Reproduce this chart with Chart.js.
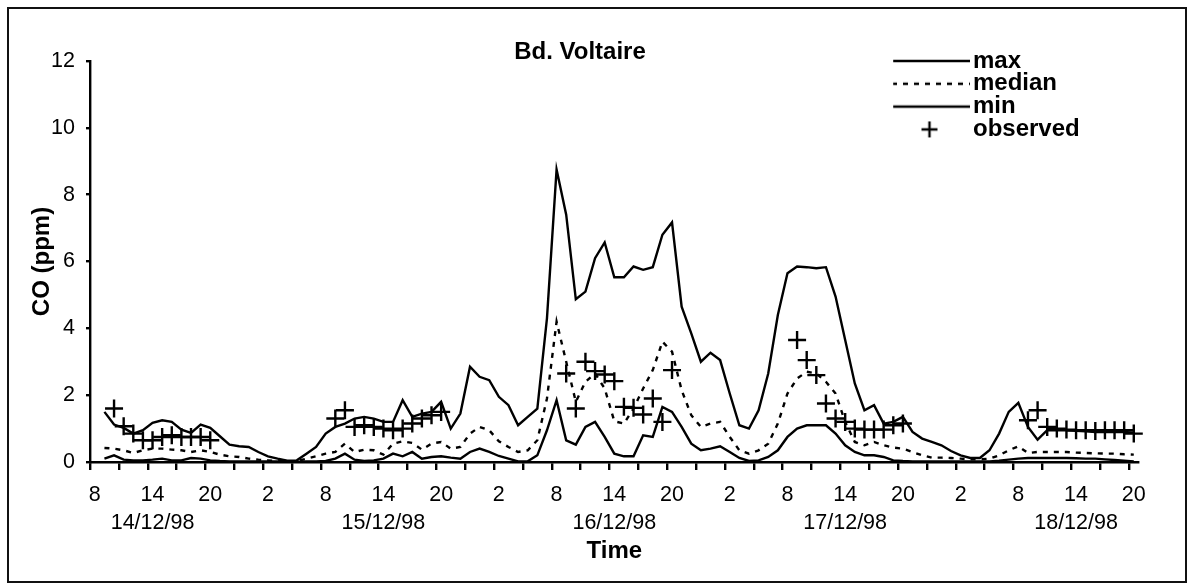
<!DOCTYPE html>
<html>
<head>
<meta charset="utf-8">
<title>Bd. Voltaire - CO</title>
<script src="https://cdn.jsdelivr.net/npm/chart.js@4.4.1/dist/chart.umd.min.js"></script>
<style>
  html, body { margin: 0; padding: 0; background: #fff; }
  #wrap { position: relative; width: 1189px; height: 585px; }
  #frame { position: absolute; left: 7px; top: 7px; width: 1180px; height: 576px; box-sizing: border-box; border: 2px solid #111; pointer-events: none; }
  canvas { position: absolute; left: 0; top: 0; }
</style>
</head>
<body>
<div id="wrap">
  <canvas id="coChart" width="1189" height="585"></canvas>
  <div id="frame"></div>
</div>
<script>
// one category per hour, starting 14/12/98 08:00 (index 0) up to 18/12/98 20:00 (index 108)
const hours = Array.from({ length: 109 }, (_, i) => i);

// labels under every second tick mark (every 6 hours)
const tickLabels = [
  '8', ['14', '14/12/98'], '20', '2',
  '8', ['14', '15/12/98'], '20', '2',
  '8', ['14', '16/12/98'], '20', '2',
  '8', ['14', '17/12/98'], '20', '2',
  '8', ['14', '18/12/98'], '20'
];
const yTicks = [0, 2, 4, 6, 8, 10, 12];

const seriesNames = ['max', 'median', 'min', 'observed'];

const maxCO = [
  null, 1.5, 1.12, 1.02, 0.85, 0.95, 1.17, 1.25, 1.2, 0.97, 0.87, 1.12,
  1.02, 0.77, 0.52, 0.47, 0.45, 0.3, 0.17, 0.1, 0.04, 0.05, 0.25, 0.45,
  0.85, 1.05, 1.15, 1.3, 1.35, 1.3, 1.2, 1.2, 1.85, 1.35, 1.45, 1.5,
  1.8, 1.0, 1.45, 2.85, 2.55, 2.45, 1.95, 1.7, 1.1, 1.35, 1.6, 4.3,
  8.75, 7.4, 4.87, 5.1, 6.1, 6.57, 5.53, 5.53, 5.85, 5.75, 5.83, 6.8,
  7.17, 4.65, 3.85, 3.0, 3.27, 3.05, 2.05, 1.1, 1.0, 1.55, 2.65, 4.4,
  5.65, 5.85, 5.83, 5.8, 5.83, 4.95, 3.65, 2.35, 1.55, 1.7, 1.15, 1.2,
  1.35, 0.9, 0.7, 0.6, 0.5, 0.33, 0.2, 0.12, 0.12, 0.35, 0.85, 1.5,
  1.77, 1.05, 0.67, 0.95, 0.95, 0.95, 0.93, 0.92, 0.9, 0.9, 0.9, 0.9,
  0.88
];

const medianCO = [
  null, 0.42, 0.4, 0.35, 0.27, 0.35, 0.4, 0.4, 0.37, 0.35, 0.3, 0.35,
  0.3, 0.22, 0.17, 0.15, 0.1, 0.07, 0.05, 0.03, 0.02, 0.03, 0.1, 0.17,
  0.25, 0.3, 0.55, 0.3, 0.37, 0.35, 0.22, 0.55, 0.62, 0.57, 0.37, 0.55,
  0.6, 0.4, 0.45, 0.85, 1.05, 0.95, 0.62, 0.45, 0.3, 0.35, 0.65, 1.9,
  4.2, 3.0, 1.8, 2.4, 2.65, 2.2, 1.22, 1.15, 1.6, 2.2, 2.75, 3.6,
  3.3, 2.15, 1.4, 1.05, 1.15, 1.2, 0.75, 0.35, 0.25, 0.35, 0.55, 1.15,
  2.05, 2.5, 2.7, 2.65, 2.4, 2.05, 1.2, 0.6, 0.5, 0.6, 0.5, 0.43,
  0.4, 0.3, 0.2, 0.13, 0.13, 0.12, 0.1, 0.08, 0.08, 0.1, 0.2, 0.35,
  0.47, 0.27, 0.3, 0.3, 0.3, 0.3, 0.28, 0.27, 0.26, 0.25, 0.25, 0.23,
  0.22
];

const minCO = [
  null, 0.1, 0.2, 0.07, 0.05, 0.05, 0.07, 0.1, 0.05, 0.05, 0.12, 0.1,
  0.05, 0.03, 0.02, 0.02, 0.02, 0.02, 0.02, 0.02, 0.01, 0.01, 0.02, 0.02,
  0.03, 0.1, 0.25, 0.07, 0.03, 0.05, 0.1, 0.25, 0.17, 0.3, 0.1, 0.15,
  0.17, 0.13, 0.1, 0.3, 0.4, 0.3, 0.18, 0.1, 0.02, 0.02, 0.2, 0.95,
  1.85, 0.65, 0.52, 1.05, 1.2, 0.75, 0.25, 0.17, 0.17, 0.8, 0.75, 1.65,
  1.5, 1.05, 0.55, 0.35, 0.4, 0.47, 0.3, 0.12, 0.03, 0.05, 0.15, 0.35,
  0.75, 1.0, 1.1, 1.1, 1.1, 0.85, 0.5, 0.3, 0.2, 0.2, 0.15, 0.05,
  0.03, 0.02, 0.02, 0.02, 0.02, 0.02, 0.02, 0.02, 0.02, 0.02, 0.04, 0.07,
  0.1, 0.12, 0.12, 0.12, 0.12, 0.12, 0.11, 0.1, 0.1, 0.08, 0.06, 0.04,
  0.02
];

const observedCO = [
  null, null, 1.6, 1.07, 0.85, 0.65, 0.65, 0.75, 0.8, 0.75, 0.75, 0.75,
  0.65, null, null, null, null, null, null, null, null, null, null, null,
  null, 1.3, 1.55, 1.05, 1.1, 1.05, 1.0, 0.95, 1.0, 1.15, 1.3, 1.4,
  1.5, null, null, null, null, null, null, null, null, null, null, null,
  null, 2.65, 1.6, 3.0, 2.72, 2.62, 2.42, 1.65, 1.62, 1.42, 1.9, 1.2,
  2.75, null, null, null, null, null, null, null, null, null, null, null,
  null, 3.65, 3.05, 2.6, 1.75, 1.3, 1.2, 1.0, 0.97, 0.97, 0.97, 1.1,
  1.15, null, null, null, null, null, null, null, null, null, null, null,
  null, 1.25, 1.55, 1.05, 1.0, 0.97, 0.95, 0.95, 0.93, 0.95, 0.95, 0.95,
  0.85
];

const FONT = "'Liberation Sans', Arial, Helvetica, sans-serif";
const MEDIAN_DASH = [5, 6];
const LINE_W = 2.4;

// legend symbols: long line samples and a plus
function lineSymbol(dash) {
  const c = document.createElement('canvas');
  c.width = 87; c.height = 24;
  const g = c.getContext('2d');
  g.strokeStyle = '#000';
  g.lineWidth = LINE_W;
  g.setLineDash(dash);
  g.beginPath();
  g.moveTo(9, 12);
  g.lineTo(87, 12);
  g.stroke();
  return c;
}
function plusSymbol() {
  const c = document.createElement('canvas');
  c.width = 26; c.height = 24;
  const g = c.getContext('2d');
  g.strokeStyle = '#000';
  g.lineWidth = LINE_W;
  g.beginPath();
  g.moveTo(8, 12); g.lineTo(24, 12);
  g.moveTo(16, 4); g.lineTo(16, 20);
  g.stroke();
  return c;
}
const legendSymbols = [lineSymbol([]), lineSymbol(MEDIAN_DASH), lineSymbol([]), plusSymbol()];

// put the legend in the upper right corner of the plot
const legendPlacer = {
  id: 'legendPlacer',
  afterLayout(chart) {
    const lg = chart.legend;
    if (!lg) return;
    lg.left = 893.2;
    lg.top = 50.2;
    lg.right = 1130;
    lg.bottom = 220;
    lg.width = lg.right - lg.left;
    lg.height = lg.bottom - lg.top;
  }
};

const ctx = document.getElementById('coChart').getContext('2d');
new Chart(ctx, {
  type: 'line',
  data: {
    labels: hours,
    datasets: [
      { label: seriesNames[0], data: maxCO, borderColor: '#000', borderWidth: LINE_W, pointRadius: 0, tension: 0 },
      { label: seriesNames[1], data: medianCO, borderColor: '#000', borderWidth: LINE_W, borderDash: MEDIAN_DASH, pointRadius: 0, tension: 0 },
      { label: seriesNames[2], data: minCO, borderColor: '#000', borderWidth: LINE_W, pointRadius: 0, tension: 0 },
      {
        label: seriesNames[3], data: observedCO, showLine: false, clip: false,
        pointStyle: 'cross', pointRadius: 9, pointBorderWidth: LINE_W,
        pointBorderColor: '#000', borderColor: '#000', backgroundColor: '#000'
      }
    ]
  },
  options: {
    responsive: false,
    animation: false,
    events: [],
    layout: { padding: { left: 21.4, right: 50.4, top: 8, bottom: 10 } },
    plugins: {
      title: {
        display: true,
        text: 'Bd. Voltaire',
        color: '#000',
        font: { family: FONT, size: 24, weight: 'bold', lineHeight: 1 },
        padding: { top: 32, bottom: -3 }
      },
      legend: {
        display: true,
        position: 'chartArea',
        align: 'start',
        labels: {
          usePointStyle: true,
          pointStyleWidth: 69,
          padding: -1.2,
          color: '#000',
          font: { family: FONT, size: 24, weight: 'bold' },
          generateLabels: chart => chart.data.datasets.map((ds, i) => ({
            text: ds.label,
            pointStyle: legendSymbols[i],
            fillStyle: '#000',
            strokeStyle: '#000',
            lineWidth: 0,
            hidden: false,
            datasetIndex: i,
            fontColor: '#000'
          }))
        }
      },
      tooltip: { enabled: false }
    },
    scales: {
      x: {
        type: 'linear',
        min: -0.5,
        max: 108.5,
        afterBuildTicks: axis => {
          // a tick mark every 3 hours, on the category boundaries
          const t = [];
          for (let k = 0; k <= 36; k++) t.push({ value: -0.5 + 3 * k });
          axis.ticks = t;
        },
        afterFit: axis => { axis.height = 113; },
        grid: { display: true, drawOnChartArea: false, drawTicks: true, tickLength: 8, color: '#000', lineWidth: LINE_W },
        border: { display: true, color: '#000', width: LINE_W },
        ticks: {
          autoSkip: false,
          maxRotation: 0,
          padding: 11,
          labelOffset: 4.8,
          color: '#000',
          font: { family: FONT, size: 21.5, lineHeight: 1.3 },
          callback: (value, index) => (index % 2 === 0 ? tickLabels[index / 2] : '')
        },
        title: {
          display: true,
          text: 'Time',
          color: '#000',
          font: { family: FONT, size: 24, weight: 'bold', lineHeight: 1.2 },
          padding: { top: 0, bottom: 9.1 }
        }
      },
      y: {
        type: 'linear',
        min: yTicks[0],
        max: yTicks[yTicks.length - 1],
        afterBuildTicks: axis => { axis.ticks = yTicks.map(v => ({ value: v })); },
        afterFit: axis => { axis.width = 68.6; },
        grid: { display: true, drawOnChartArea: false, drawTicks: true, tickLength: 4, color: '#000', lineWidth: LINE_W },
        border: { display: true, color: '#000', width: LINE_W },
        ticks: {
          padding: 11,
          color: '#000',
          font: { family: FONT, size: 21.5 }
        },
        title: {
          display: true,
          text: 'CO (ppm)',
          color: '#000',
          font: { family: FONT, size: 24, weight: 'bold', lineHeight: 1.2 },
          padding: { top: 6.2, bottom: 0 }
        }
      }
    }
  },
  plugins: [legendPlacer]
});
</script>
</body>
</html>
